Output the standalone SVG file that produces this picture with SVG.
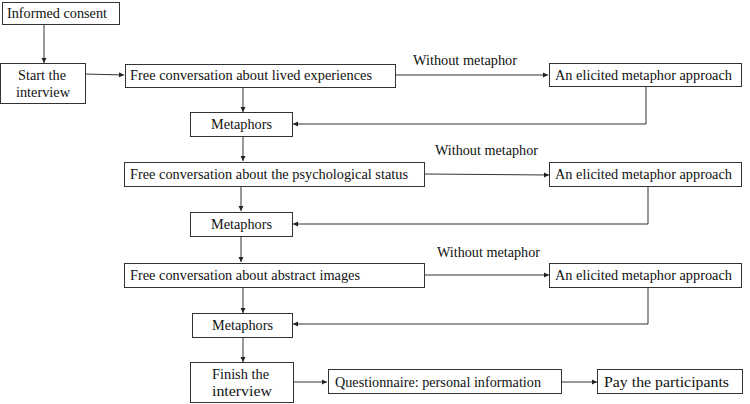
<svg xmlns="http://www.w3.org/2000/svg" width="750" height="404" viewBox="0 0 750 404">
<defs>
<marker id="ah" markerWidth="6" markerHeight="6" refX="5" refY="3" orient="auto" markerUnits="userSpaceOnUse">
<path d="M0,0.5 L5,3 L0,5.5 Z" fill="#222"/>
</marker>
<style>
.b{fill:#fff;stroke:#333;stroke-width:1}
.t{font-family:"Liberation Serif","Times New Roman","Noto Serif","DejaVu Serif",serif;font-size:15px;fill:#111}
.c{text-anchor:middle}
.l{fill:none;stroke:#333;stroke-width:1}
.a{marker-end:url(#ah)}
</style>
</defs>
<rect width="750" height="404" fill="#fff"/>
<g id="connectors">
<line class="l a" x1="44" y1="24" x2="44" y2="63"/>
<line class="l a" x1="85" y1="74" x2="124" y2="75"/>
<line class="l a" x1="395" y1="75" x2="548" y2="75"/>
<polyline class="l a" points="646,87 646,124 293,124"/>
<line class="l a" x1="243" y1="87" x2="243" y2="112"/>
<line class="l a" x1="243" y1="136" x2="243" y2="161"/>
<line class="l a" x1="425" y1="174" x2="549" y2="175"/>
<polyline class="l a" points="648,186 648,224 293,224"/>
<line class="l a" x1="241" y1="186" x2="241" y2="211"/>
<line class="l a" x1="241" y1="236" x2="241" y2="262"/>
<line class="l a" x1="425" y1="275" x2="549" y2="275"/>
<polyline class="l a" points="648,287 648,324 293,324"/>
<line class="l a" x1="243" y1="287" x2="243" y2="313"/>
<line class="l a" x1="243" y1="337" x2="243" y2="362"/>
<line class="l a" x1="293" y1="382" x2="327" y2="382"/>
<line class="l a" x1="561" y1="382" x2="597" y2="382"/>
</g>
<g id="labels">
<text class="t" x="413" y="65" textLength="104" lengthAdjust="spacingAndGlyphs">Without metaphor</text>
<text class="t" x="435" y="155" textLength="103" lengthAdjust="spacingAndGlyphs">Without metaphor</text>
<text class="t" x="437" y="257" textLength="103" lengthAdjust="spacingAndGlyphs">Without metaphor</text>
</g>
<g id="consent"><rect class="b" x="2.5" y="2.5" width="117" height="22"/><text class="t" x="7" y="18" textLength="100" lengthAdjust="spacingAndGlyphs">Informed consent</text></g>
<g id="start"><rect class="b" x="0.5" y="63.5" width="85" height="40"/><text class="t" x="18" y="80" textLength="48" lengthAdjust="spacingAndGlyphs">Start the</text><text class="t" x="16" y="97" textLength="54" lengthAdjust="spacingAndGlyphs">interview</text></g>
<g id="free1"><rect class="b" x="125.5" y="64.5" width="270" height="23"/><text class="t" x="130" y="80" textLength="242" lengthAdjust="spacingAndGlyphs">Free conversation about lived experiences</text></g>
<g id="elicit1"><rect class="b" x="549.5" y="63.5" width="192" height="23"/><text class="t" x="555" y="80" textLength="177" lengthAdjust="spacingAndGlyphs">An elicited metaphor approach</text></g>
<g id="meta1"><rect class="b" x="190.5" y="112.5" width="102" height="24"/><text class="t" x="211" y="129" textLength="61" lengthAdjust="spacingAndGlyphs">Metaphors</text></g>
<g id="free2"><rect class="b" x="124.5" y="162.5" width="300" height="24"/><text class="t" x="130" y="179" textLength="278" lengthAdjust="spacingAndGlyphs">Free conversation about the psychological status</text></g>
<g id="elicit2"><rect class="b" x="549.5" y="162.5" width="192" height="24"/><text class="t" x="555" y="179" textLength="177" lengthAdjust="spacingAndGlyphs">An elicited metaphor approach</text></g>
<g id="meta2"><rect class="b" x="190.5" y="212.5" width="102" height="24"/><text class="t" x="211" y="229" textLength="61" lengthAdjust="spacingAndGlyphs">Metaphors</text></g>
<g id="free3"><rect class="b" x="124.5" y="263.5" width="300" height="24"/><text class="t" x="130" y="280" textLength="230" lengthAdjust="spacingAndGlyphs">Free conversation about abstract images</text></g>
<g id="elicit3"><rect class="b" x="549.5" y="263.5" width="192" height="24"/><text class="t" x="555" y="280" textLength="177" lengthAdjust="spacingAndGlyphs">An elicited metaphor approach</text></g>
<g id="meta3"><rect class="b" x="192.5" y="313.5" width="100" height="24"/><text class="t" x="212" y="330" textLength="61" lengthAdjust="spacingAndGlyphs">Metaphors</text></g>
<g id="finish"><rect class="b" x="190.5" y="362.5" width="103" height="40"/><text class="t" x="212" y="379" textLength="57" lengthAdjust="spacingAndGlyphs">Finish the</text><text class="t" x="212" y="396" textLength="60" lengthAdjust="spacingAndGlyphs">interview</text></g>
<g id="quest"><rect class="b" x="328.5" y="369.5" width="233" height="24"/><text class="t" x="335" y="387" textLength="206" lengthAdjust="spacingAndGlyphs">Questionnaire: personal information</text></g>
<g id="pay"><rect class="b" x="597.5" y="369.5" width="145" height="24"/><text class="t" x="604" y="387" textLength="125" lengthAdjust="spacingAndGlyphs">Pay the participants</text></g>
</svg>
